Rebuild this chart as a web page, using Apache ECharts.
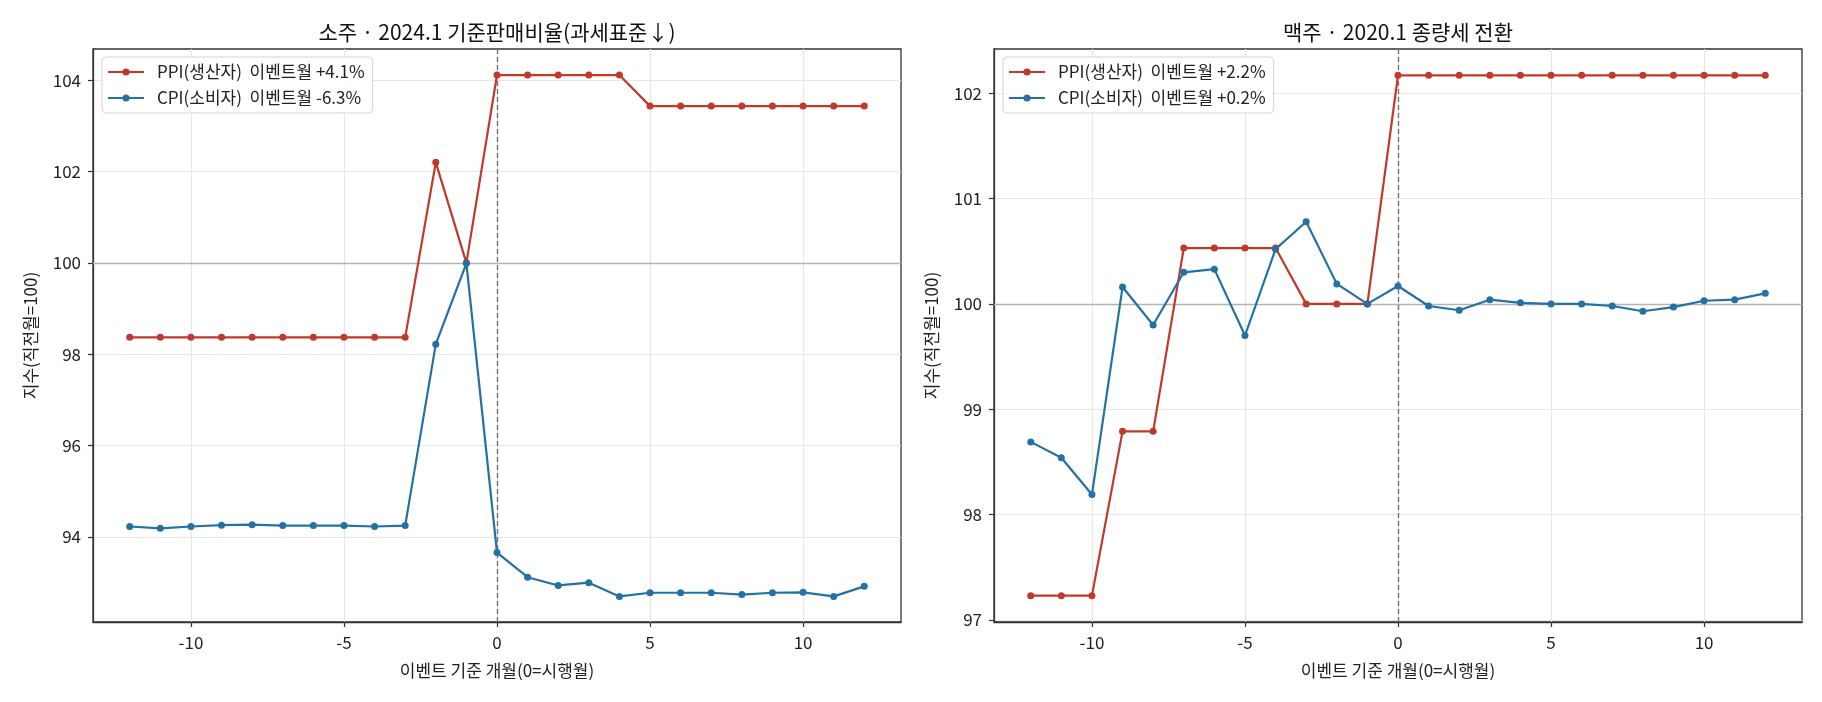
<!DOCTYPE html>
<html>
<head>
<meta charset="utf-8">
<script src="https://cdn.jsdelivr.net/npm/echarts@6/dist/echarts.min.js"></script>
<style>
    html, body { margin: 0; padding: 0; background: #fff; }
    #chart { width: 1822px; height: 702px; }
</style>
</head>
<body>
<div id="chart"></div>
<script>
// 이벤트 기준 개월
var months = [-12, -11, -10, -9, -8, -7, -6, -5, -4, -3, -2, -1, 0, 1, 2, 3, 4, 5, 6, 7, 8, 9, 10, 11, 12];

// 소주 (2024.1 기준판매비율)
var sojuPpi = [98.37, 98.37, 98.37, 98.37, 98.37, 98.37, 98.37, 98.37, 98.37, 98.37, 102.20, 100.00,
    104.11, 104.11, 104.11, 104.11, 104.11, 103.43, 103.43, 103.43, 103.43, 103.43, 103.43, 103.43, 103.43];
var sojuCpi = [94.23, 94.19, 94.23, 94.26, 94.27, 94.25, 94.25, 94.25, 94.23, 94.25, 98.22, 99.99,
    93.66, 93.12, 92.94, 93.00, 92.70, 92.78, 92.78, 92.78, 92.74, 92.78, 92.79, 92.70, 92.92];

// 맥주 (2020.1 종량세)
var beerPpi = [97.23, 97.23, 97.23, 98.79, 98.79, 100.53, 100.53, 100.53, 100.53, 100.00, 100.00, 100.00,
    102.17, 102.17, 102.17, 102.17, 102.17, 102.17, 102.17, 102.17, 102.17, 102.17, 102.17, 102.17, 102.17];
var beerCpi = [98.69, 98.54, 98.19, 100.16, 99.80, 100.30, 100.33, 99.70, 100.52, 100.78, 100.19, 100.00,
    100.17, 99.98, 99.94, 100.04, 100.01, 100.00, 100.00, 99.98, 99.93, 99.97, 100.03, 100.04, 100.10];

var titles = ['소주 · 2024.1 기준판매비율(과세표준↓)', '맥주 · 2020.1 종량세 전환'];
var sojuNames = ['PPI(생산자)  이벤트월 +4.1%', 'CPI(소비자)  이벤트월 -6.3%'];
var beerNames = ['PPI(생산자)  이벤트월 +2.2%', 'CPI(소비자)  이벤트월 +0.2%'];
var xTicks = [-10, -5, 0, 5, 10];
var sojuYTicks = [94, 96, 98, 100, 102, 104];
var beerYTicks = [97, 98, 99, 100, 101, 102];
var xName = '이벤트 기준 개월(0=시행월)';
var yName = '지수(직전월=100)';

var FONT = '"Noto Sans CJK KR", "Noto Sans", sans-serif';
var RED = '#c0392b';
var BLUE = '#2471a3';

var pairs = function (vals) {
    return months.map(function (m, i) { return [m, vals[i]]; });
};

var makeX = function (idx) {
    return {
        type: 'value', gridIndex: idx, min: -13.2, max: 13.2,
        name: xName, nameLocation: 'middle', nameGap: 40,
        nameTextStyle: { fontSize: 17, color: '#222', fontFamily: FONT },
        axisLine: { show: true, onZero: false, lineStyle: { color: '#333', width: 1.3 } },
        axisTick: { show: true, length: 5, customValues: xTicks, lineStyle: { color: '#333', width: 1.2 } },
        axisLabel: { customValues: xTicks, fontSize: 17, color: '#222', margin: 12, fontFamily: FONT },
        splitLine: { show: true, lineStyle: { color: '#e6e6e6', width: 1.2 } }
    };
};

var makeY = function (idx, min, max, ticks) {
    return {
        type: 'value', gridIndex: idx, min: min, max: max,
        name: yName, nameLocation: 'middle', nameRotate: 90, nameGap: 54,
        nameTextStyle: { fontSize: 17, color: '#222', fontFamily: FONT },
        axisLine: { show: true, onZero: false, lineStyle: { color: '#333', width: 1.3 } },
        axisTick: { show: true, length: 5, customValues: ticks, lineStyle: { color: '#333', width: 1.2 } },
        axisLabel: { customValues: ticks, fontSize: 17, color: '#222', margin: 12, fontFamily: FONT },
        splitLine: { show: true, lineStyle: { color: '#e6e6e6', width: 1.2 } }
    };
};

var makeLine = function (idx, name, vals, color) {
    return {
        name: name, type: 'line', xAxisIndex: idx, yAxisIndex: idx,
        data: pairs(vals),
        symbol: 'circle', symbolSize: 7,
        itemStyle: { color: color },
        lineStyle: { color: color, width: 2.2 },
        emphasis: { disabled: true },
        z: 3
    };
};

// 기준선: y=100, x=0
var makeRefs = function (idx) {
    return {
        type: 'line', xAxisIndex: idx, yAxisIndex: idx, data: [],
        silent: true, z: 1,
        markLine: {
            silent: true, symbol: 'none', z: 1, animation: false,
            label: { show: false },
            emphasis: { disabled: true },
            data: [
                { yAxis: 100, lineStyle: { color: '#b4b4b4', width: 1.3, type: 'solid' } },
                { xAxis: 0, lineStyle: { color: '#777', width: 1.4, type: [5, 3] } }
            ]
        }
    };
};

var makeLegend = function (left, names) {
    return {
        orient: 'vertical', left: left, top: 57, data: names,
        itemWidth: 36, itemHeight: 9, itemGap: 8,
        padding: [6, 8, 6, 5],
        backgroundColor: 'rgba(255,255,255,0.85)',
        borderColor: '#d4d4d4', borderWidth: 1, borderRadius: 4,
        selectedMode: false,
        textStyle: { fontSize: 17, color: '#222', fontFamily: FONT, lineHeight: 18, padding: [0, 0, 0, 8] }
    };
};

var chart = echarts.init(document.getElementById('chart'), null, { renderer: 'canvas' });
var option = {
    animation: false,
    backgroundColor: '#fff',
    title: [
        { text: titles[0], left: 497, top: 32, textAlign: 'center', textVerticalAlign: 'middle', padding: 0,
          textStyle: { fontSize: 21, fontWeight: 'normal', color: '#111', fontFamily: FONT } },
        { text: titles[1], left: 1398, top: 32, textAlign: 'center', textVerticalAlign: 'middle', padding: 0,
          textStyle: { fontSize: 21, fontWeight: 'normal', color: '#111', fontFamily: FONT } }
    ],
    legend: [makeLegend(102, sojuNames), makeLegend(1003, beerNames)],
    grid: [
        { left: 93, top: 49, width: 808, height: 573, show: true, borderColor: '#333', borderWidth: 1.3, backgroundColor: 'transparent', outerBoundsMode: 'none' },
        { left: 994, top: 49, width: 808, height: 573, show: true, borderColor: '#333', borderWidth: 1.3, backgroundColor: 'transparent', outerBoundsMode: 'none' }
    ],
    xAxis: [makeX(0), makeX(1)],
    yAxis: [makeY(0, 92.14, 104.68, sojuYTicks), makeY(1, 96.98, 102.42, beerYTicks)],
    series: [
        makeRefs(0),
        makeLine(0, sojuNames[0], sojuPpi, RED),
        makeLine(0, sojuNames[1], sojuCpi, BLUE),
        makeRefs(1),
        makeLine(1, beerNames[0], beerPpi, RED),
        makeLine(1, beerNames[1], beerCpi, BLUE)
    ]
};
chart.setOption(option);
</script>
</body>
</html>
